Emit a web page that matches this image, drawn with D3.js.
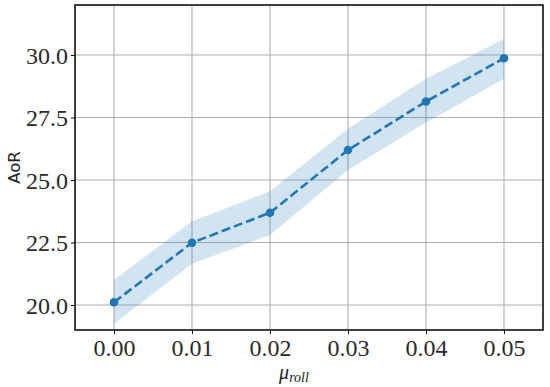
<!DOCTYPE html>
<html><head><meta charset="utf-8">
<script src="https://cdn.jsdelivr.net/npm/d3@7"></script>
<style>body{margin:0;background:#fff}</style>
</head><body>
<svg id="c" width="550" height="387"></svg>
<script>
const xValues = [0.00, 0.01, 0.02, 0.03, 0.04, 0.05];
const aorMean = [20.11, 22.49, 23.69, 26.2, 28.14, 29.87];
const aorLower = [19.25, 21.65, 22.8, 25.4, 27.3, 29.05];
const aorUpper = [21.0, 23.35, 24.55, 27.05, 29.05, 30.65];
const xTicks = [0.00, 0.01, 0.02, 0.03, 0.04, 0.05];
const yTicks = [20.0, 22.5, 25.0, 27.5, 30.0];

const svg = d3.select("#c");
const L = 75, T = 5, R = 543, B = 330;
const x = d3.scaleLinear().domain([-0.005, 0.055]).range([L, R]);
const y = d3.scaleLinear().domain([19, 32]).range([B, T]);
const serif = "'Liberation Serif','DejaVu Serif',serif";

// grid
svg.append("g").selectAll("line").data(xTicks).join("line")
  .attr("x1", d => x(d)).attr("x2", d => x(d)).attr("y1", T).attr("y2", B)
  .attr("stroke", "#b0b0b0").attr("stroke-width", 1.1);
svg.append("g").selectAll("line").data(yTicks).join("line")
  .attr("y1", d => y(d)).attr("y2", d => y(d)).attr("x1", L).attr("x2", R)
  .attr("stroke", "#b0b0b0").attr("stroke-width", 1.1);

// band
const area = d3.area().x((d, i) => x(xValues[i])).y0((d, i) => y(aorLower[i])).y1((d, i) => y(aorUpper[i]));
svg.append("path").datum(aorMean).attr("d", area).attr("fill", "#1f77b4").attr("fill-opacity", 0.2);

// line
const line = d3.line().x((d, i) => x(xValues[i])).y(d => y(d));
svg.append("path").datum(aorMean).attr("d", line).attr("fill", "none")
  .attr("stroke", "#1f77b4").attr("stroke-width", 2.6).attr("stroke-dasharray", "9,4");
svg.append("g").selectAll("circle").data(aorMean).join("circle")
  .attr("cx", (d, i) => x(xValues[i])).attr("cy", d => y(d)).attr("r", 4.3).attr("fill", "#1f77b4");

// frame
svg.append("rect").attr("x", L).attr("y", T).attr("width", R - L).attr("height", B - T)
  .attr("fill", "none").attr("stroke", "#000").attr("stroke-width", 1.5);

// axes
const xa = svg.append("g").attr("transform", `translate(0,${B})`)
  .call(d3.axisBottom(x).tickValues(xTicks).tickFormat(d3.format(".2f")).tickSize(4).tickPadding(5));
const ya = svg.append("g").attr("transform", `translate(${L},0)`)
  .call(d3.axisLeft(y).tickValues(yTicks).tickFormat(d3.format(".1f")).tickSize(4).tickPadding(3));
[xa, ya].forEach(a => {
  a.select(".domain").remove();
  a.selectAll(".tick line").attr("stroke", "#000").attr("stroke-width", 1);
  a.selectAll("text").attr("font-family", serif).attr("font-size", 24).attr("fill", "#2a2a2a");
});
ya.selectAll("text").attr("dy", "0.34em");

// labels
svg.append("text").attr("transform", "translate(20,167.5) rotate(-90)").attr("text-anchor", "middle")
  .attr("font-family", "'DejaVu Sans',sans-serif").attr("font-size", 16.5).attr("fill", "#222").text("AoR");
const xl = svg.append("text").attr("x", 294).attr("y", 379).attr("text-anchor", "middle")
  .attr("font-family", serif).attr("font-style", "italic").attr("fill", "#222");
xl.append("tspan").attr("font-size", 20).text("μ");
xl.append("tspan").attr("font-size", 14).attr("dy", 3).text("roll");
</script>
</body></html>
